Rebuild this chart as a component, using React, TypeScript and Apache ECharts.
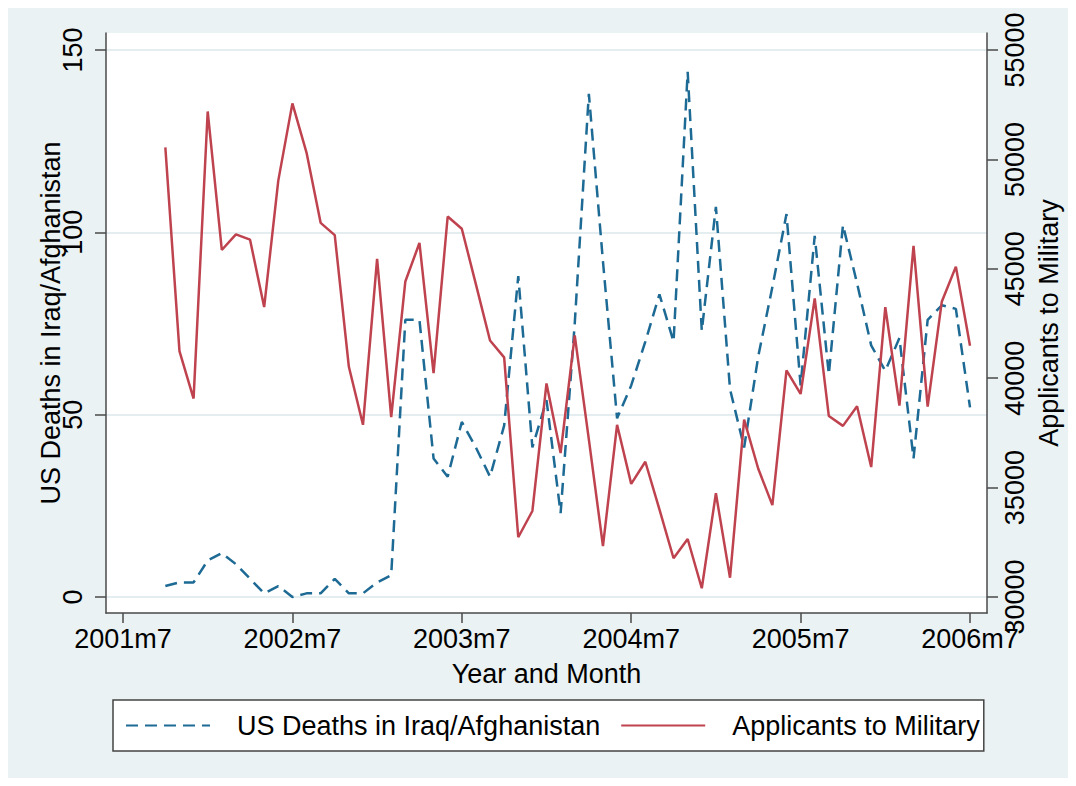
import React, { useEffect, useRef } from "react";
import * as echarts from "echarts";

// Months counted from 2001m7 (=0). First observation is 2001m10.
const firstMonth = 3;

// US deaths in Iraq/Afghanistan, monthly 2001m10 .. 2006m7
const deaths = [
  3, 4, 4, 10, 12, 9, 5, 1, 3, 0, 1, 1, 5, 1, 1, 4, 6, 76, 76, 38,
  33, 48, 41, 33, 47, 88, 41, 54, 23, 75, 138, 92, 49, 58, 70, 83, 70, 144, 73, 107,
  57, 41, 66, 85, 105, 58, 99, 61, 102, 86, 69, 62, 71, 38, 76, 80, 79, 52,
];

// Applicants to military, monthly 2001m10 .. 2006m7
const applicants = [
  50550, 41240, 39070, 52190, 45860, 46570, 46330, 43250, 49030, 52560,
  50310, 47100, 46540, 40520, 37870, 45450, 38220, 44420, 46180, 40230,
  47390, 46830, 44290, 41720, 40950, 32730, 33930, 39760, 36580, 41960,
  37200, 32330, 37870, 35170, 36180, 34000, 31770, 32650, 30400, 34740,
  30880, 38110, 35860, 34200, 40360, 39280, 43650, 38270, 37820, 38720,
  35940, 43250, 38750, 46050, 38700, 43490, 45100, 41480,
];

const xTicks = [0, 12, 24, 36, 48, 60];
const xTickLabels = ["2001m7", "2002m7", "2003m7", "2004m7", "2005m7", "2006m7"];
const leftTicks = [0, 50, 100, 150];
const rightTicks = [30000, 35000, 40000, 45000, 50000, 55000];

const FONT = "'Liberation Sans', Arial, Helvetica, sans-serif";
const BLUE = "#1d6a95";
const RED = "#bf434f";
const AXIS = "#4a4a4a";
const GRIDC = "#e4eef1";
const BG = "#eaf2f3";

export default function App() {
  const ref = useRef<HTMLDivElement>(null);

  useEffect(() => {
    if (!ref.current) return;
    const chart = echarts.init(ref.current, undefined, { renderer: "svg" });

    const deathData = deaths.map((v, i) => [firstMonth + i, v]);
    const appData = applicants.map((v, i) => [firstMonth + i, v]);

    const labelStyle = { fontFamily: FONT, fontSize: 27, color: "#000" };

    chart.setOption({
      animation: false,
      backgroundColor: BG,
      grid: {
        left: 98,
        right: 81,
        top: 25,
        bottom: 165,
        containLabel: false,
        outerBoundsMode: "none",
        show: true,
        backgroundColor: "#ffffff",
        borderWidth: 0,
      },
      legend: {
        left: 105,
        top: 692,
        orient: "horizontal",
        backgroundColor: "#ffffff",
        borderColor: "#444",
        borderWidth: 1.5,
        borderRadius: 0,
        padding: [12, 4, 12, 12],
        itemWidth: 84,
        itemHeight: 20,
        itemGap: 20,
        itemStyle: { opacity: 0 },
        textStyle: { ...labelStyle, padding: [0, 0, 0, 22] },
        data: ["US Deaths in Iraq/Afghanistan", "Applicants to Military"],
      },
      xAxis: {
        type: "value",
        min: -1.204,
        max: 61.204,
        name: "Year and Month",
        nameLocation: "middle",
        nameGap: 47,
        nameMoveOverlap: false,
        nameTextStyle: labelStyle,
        axisLine: { show: true, onZero: false, lineStyle: { color: AXIS, width: 1.5 } },
        axisTick: { show: true, length: 10, customValues: xTicks, lineStyle: { color: AXIS, width: 1.5 } },
        axisLabel: {
          ...labelStyle,
          margin: 12,
          customValues: xTicks,
          formatter: (v: number) => xTickLabels[xTicks.indexOf(v)] ?? "",
        },
        splitLine: { show: false },
      },
      yAxis: [
        {
          type: "value",
          position: "left",
          min: -4.39,
          max: 154.66,
          name: "US Deaths in Iraq/Afghanistan",
          nameLocation: "middle",
          nameRotate: 90,
          nameGap: 42,
          nameMoveOverlap: false,
          nameTextStyle: labelStyle,
          axisLine: { show: true, onZero: false, lineStyle: { color: AXIS, width: 1.5 } },
          axisTick: { show: true, length: 11, customValues: leftTicks, lineStyle: { color: AXIS, width: 1.5 } },
          axisLabel: {
            ...labelStyle,
            rotate: 90,
            margin: 20,
            customValues: leftTicks,
            formatter: (v: number) => String(v),
          },
          splitLine: { show: true, lineStyle: { color: GRIDC, width: 2 } },
        },
        {
          type: "value",
          position: "right",
          min: 29268,
          max: 55777,
          name: "Applicants to Military",
          nameLocation: "middle",
          nameRotate: 90,
          nameGap: 48,
          nameMoveOverlap: false,
          nameTextStyle: labelStyle,
          axisLine: { show: true, onZero: false, lineStyle: { color: AXIS, width: 1.5 } },
          axisTick: { show: true, length: 11, customValues: rightTicks, lineStyle: { color: AXIS, width: 1.5 } },
          axisLabel: {
            ...labelStyle,
            rotate: 90,
            margin: 14,
            customValues: rightTicks,
            formatter: (v: number) => String(v),
          },
          splitLine: { show: false },
        },
      ],
      series: [
        {
          name: "US Deaths in Iraq/Afghanistan",
          type: "line",
          yAxisIndex: 0,
          data: deathData,
          symbol: "none",
          lineStyle: { color: BLUE, width: 2.5, type: [12, 7] },
          itemStyle: { color: BLUE },
        },
        {
          name: "Applicants to Military",
          type: "line",
          yAxisIndex: 1,
          data: appData,
          symbol: "none",
          lineStyle: { color: RED, width: 2.5, type: "solid" },
          itemStyle: { color: RED },
        },
      ],
    });

    return () => chart.dispose();
  }, []);

  return <div ref={ref} style={{ width: 1060, height: 770 }} />;
}
